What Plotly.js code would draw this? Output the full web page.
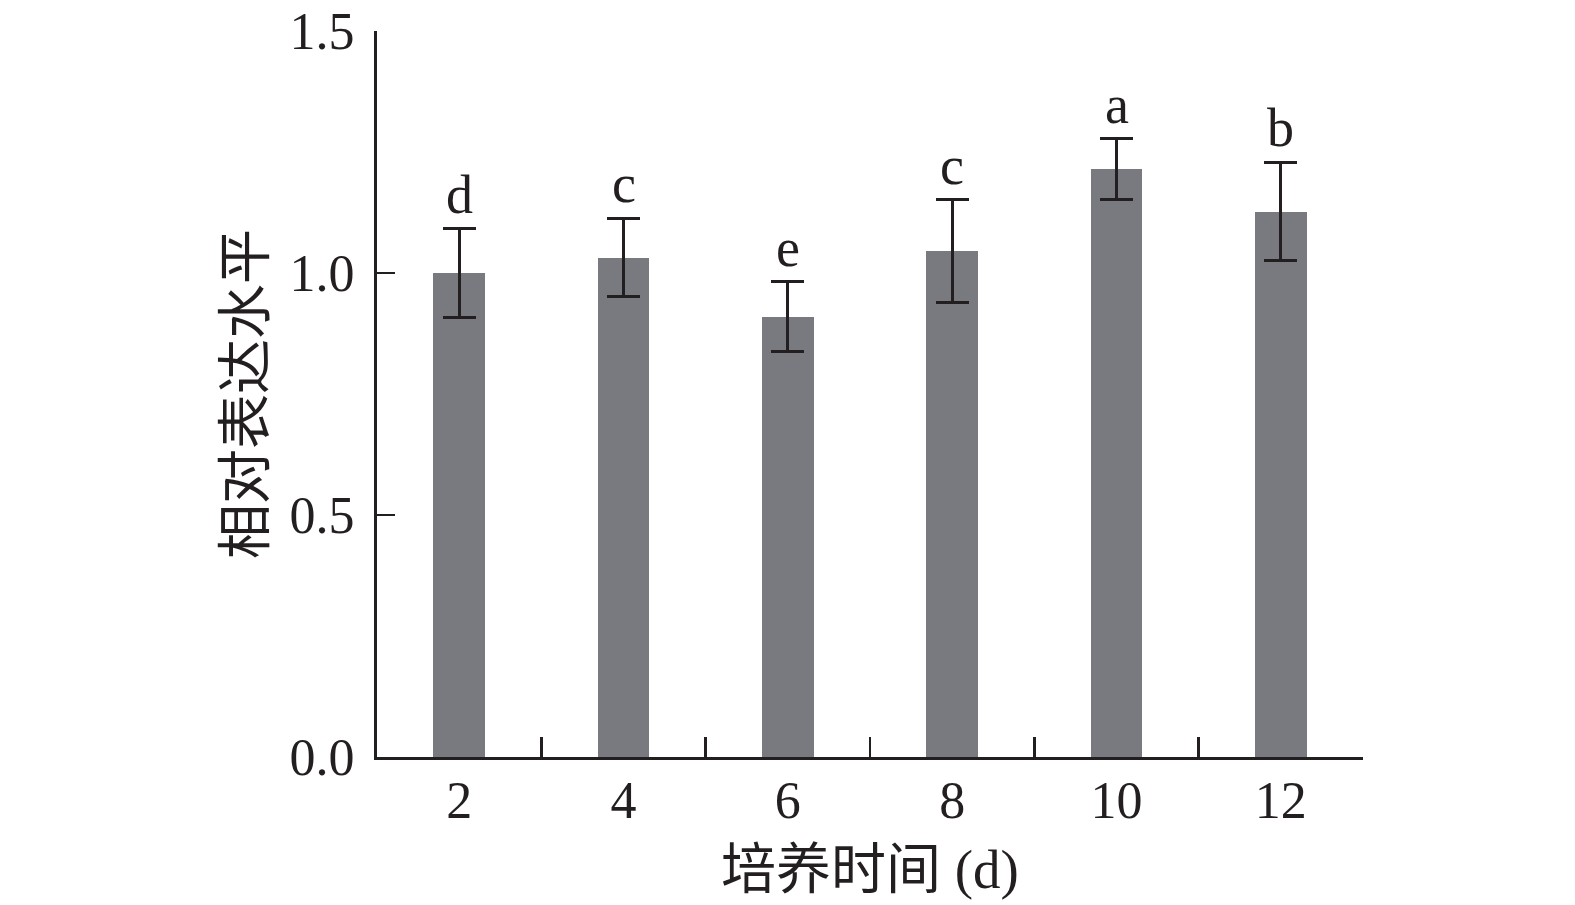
<!DOCTYPE html>
<html>
<head>
<meta charset="utf-8">
<script src="https://cdn.plot.ly/plotly-3.0.1.min.js"></script>
<style>html,body{margin:0;padding:0;background:#fff;}#chart{width:1575px;height:905px;}</style>
</head>
<body>
<div id="chart"></div>
<script>
const days = ['2', '4', '6', '8', '10', '12'];
const expression = [1.000, 1.032, 0.910, 1.045, 1.214, 1.127];
const errors = [0.091, 0.081, 0.072, 0.106, 0.063, 0.102];
const letters = ['d', 'c', 'e', 'c', 'a', 'b'];
const yTicks = [0, 0.5, 1.0, 1.5];
const xTitle = '培养时间 (d)';
const yTitle = '相对表达水平';

const FONT = '"Liberation Serif", "Times New Roman", "Noto Sans CJK SC", serif';
const INK = '#231f20';

const trace = {
  type: 'bar',
  x: days,
  y: expression,
  width: 0.313,
  marker: {color: '#787a80', line: {width: 0}},
  error_y: {type: 'data', array: errors, visible: true, color: INK, thickness: 3, width: 16.5},
  hoverinfo: 'x+y'
};

// category axis: annotation x given as the category index
const annotations = days.map((d, i) => ({
  x: i, y: expression[i] + errors[i], xref: 'x', yref: 'y',
  text: letters[i], showarrow: false, yanchor: 'bottom', yshift: 2,
  font: {family: FONT, size: 54, color: INK}
}));

const layout = {
  width: 1575, height: 905,
  margin: {l: 377, r: 212, t: 31, b: 148, pad: 0},
  paper_bgcolor: '#fff', plot_bgcolor: '#fff',
  showlegend: false,
  font: {family: FONT, color: INK},
  bargap: 0,
  xaxis: {
    type: 'category',
    range: [-0.5, 5.5],
    showline: true, linecolor: INK, linewidth: 3,
    ticks: 'inside', tickson: 'boundaries', ticklen: 20, tickwidth: 2.5, tickcolor: INK,
    tickfont: {family: FONT, size: 52, color: INK},
    ticklabelstandoff: -4,
    showgrid: false, zeroline: false,
    title: {text: xTitle, font: {family: FONT, size: 55, color: INK}, standoff: 22}
  },
  yaxis: {
    range: [0, 1.5],
    tickvals: yTicks, tickformat: '.1f',
    showline: true, linecolor: INK, linewidth: 3,
    ticks: 'inside', ticklen: 18, tickwidth: 2.5, tickcolor: INK,
    tickfont: {family: FONT, size: 52, color: INK},
    ticklabelstandoff: 9,
    showgrid: false, zeroline: false,
    title: {text: yTitle, font: {family: FONT, size: 55, color: INK}, standoff: 8}
  },
  annotations: annotations
};

Plotly.newPlot('chart', [trace], layout, {displayModeBar: false, staticPlot: true});
</script>
</body>
</html>
